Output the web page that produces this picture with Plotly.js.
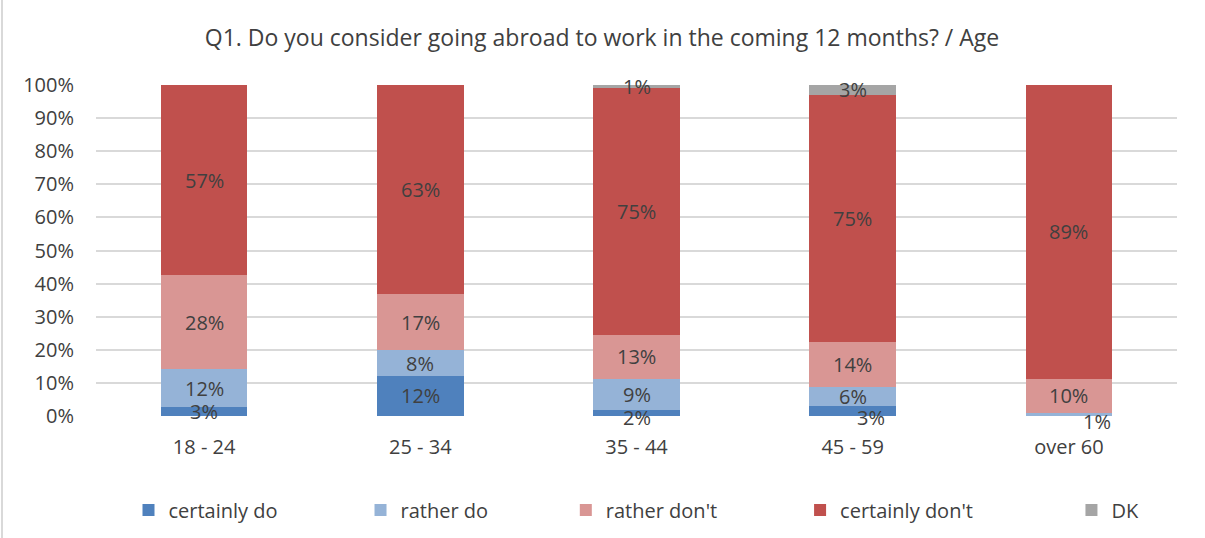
<!DOCTYPE html>
<html>
<head>
<meta charset="utf-8">
<script src="https://cdn.plot.ly/plotly-3.0.1.min.js"></script>
<style>
  html, body { margin: 0; padding: 0; background: #fff; }
  #chart { width: 1205px; height: 538px; }
  #edge { position: absolute; left: 1px; top: 0; width: 2px; height: 538px; background: #D9D9D9; }
</style>
</head>
<body>
<div id="chart"></div>
<div id="edge"></div>
<script>
// ---- data ----
const categories = ["18 - 24", "25 - 34", "35 - 44", "45 - 59", "over 60"];
const seriesNames = ["certainly do", "rather do", "rather don't", "certainly don't", "DK"];
const certainlyDo    = [0.027, 0.121, 0.018, 0.030, 0.000];
const ratherDo       = [0.115, 0.078, 0.094, 0.058, 0.009];
const ratherDont     = [0.284, 0.170, 0.133, 0.136, 0.103];
const certainlyDont  = [0.574, 0.631, 0.745, 0.746, 0.888];
const dk             = [0.000, 0.000, 0.010, 0.030, 0.000];
const seriesValues = [certainlyDo, ratherDo, ratherDont, certainlyDont, dk];
const colors = ["#4F81BD", "#95B3D7", "#D99694", "#C0504D", "#A5A5A5"];

const FONT = "Open Sans, Noto Sans, sans-serif";
const TXT = "#404040";

// legend spacing padding (style)
const pad = ["\u00a0".repeat(15), "\u00a0".repeat(14), "\u00a0".repeat(15), "\u00a0".repeat(18), ""];
// label nudges in pixels (style), keyed by series index | category index
const nudge = { "0|2": [0, -4], "0|3": [18, -6], "1|4": [28, -7] };

const traces = seriesValues.map((vals, i) => ({
  type: "bar",
  name: seriesNames[i] + pad[i],
  x: categories,
  y: vals,
  marker: { color: colors[i], line: { width: 0 } },
  hoverinfo: "skip"
}));

// labels at segment centers
const annotations = [];
const cum = categories.map(() => 0);
seriesValues.forEach((vals, i) => {
  vals.forEach((v, j) => {
    const mid = cum[j] + v / 2;
    cum[j] += v;
    if (v <= 0) return;
    const n = nudge[i + "|" + j] || [0, 0];
    annotations.push({
      x: categories[j], y: mid, xref: "x", yref: "y",
      text: Math.round(v * 100) + "%",
      showarrow: false,
      font: { family: FONT, size: 20, color: TXT },
      xanchor: "center", yanchor: "middle",
      xshift: n[0], yshift: n[1]
    });
  });
});

const layout = {
  width: 1205, height: 538,
  paper_bgcolor: "#fff", plot_bgcolor: "#fff",
  margin: { l: 96, r: 28, t: 85, b: 122 },
  barmode: "stack",
  bargap: 0.6,
  font: { family: FONT, color: TXT, size: 20 },
  title: {
    text: "Q1. Do you consider going abroad to work in the coming 12 months? / Age",
    font: { family: FONT, size: 23, color: TXT },
    x: 602 / 1205, xref: "container", xanchor: "center",
    y: 1 - 38 / 538, yref: "container", yanchor: "middle"
  },
  xaxis: {
    type: "category",
    showgrid: false, zeroline: false, showline: false,
    ticks: "", ticklabelstandoff: 17,
    tickfont: { family: FONT, size: 20, color: TXT }
  },
  yaxis: {
    range: [0, 1], tickformat: ".0%", dtick: 0.1,
    showgrid: true, gridcolor: "#D9D9D9", gridwidth: 2,
    zeroline: false, showline: false, ticks: "",
    ticklabelstandoff: 21,
    tickfont: { family: FONT, size: 20, color: TXT }
  },
  showlegend: true,
  legend: {
    orientation: "h",
    x: 0.5, xref: "paper", xanchor: "center",
    y: 1 - 510 / 538, yref: "container", yanchor: "middle",
    font: { family: FONT, size: 20, color: TXT },
    traceorder: "normal",
    itemwidth: 30
  },
  annotations: annotations
};

Plotly.newPlot("chart", traces, layout, { displayModeBar: false, staticPlot: true });
</script>
</body>
</html>
